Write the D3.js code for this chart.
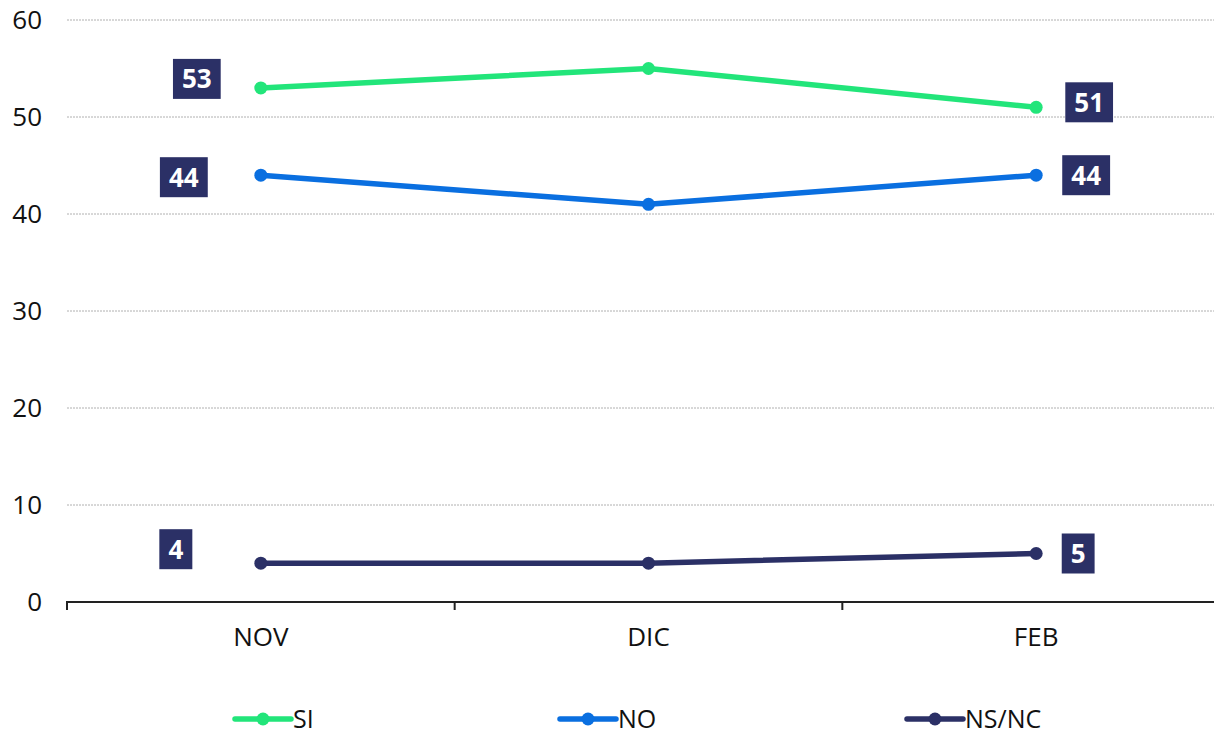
<!DOCTYPE html>
<html>
<head>
<meta charset="utf-8">
<script src="https://cdn.jsdelivr.net/npm/d3@7"></script>
<style>
  html, body { margin: 0; padding: 0; background: #fff; }
  svg { display: block; font-family: "Open Sans", "Noto Sans", sans-serif; }
</style>
</head>
<body>
<svg id="chart" width="1214" height="735"></svg>
<script>
const categories = ["NOV", "DIC", "FEB"];
const seriesNames = ["SI", "NO", "NS/NC"];
const siValues = [53, 55, 51];
const noValues = [44, 41, 44];
const nsncValues = [4, 4, 5];
const yTicks = [0, 10, 20, 30, 40, 50, 60];
const colors = ["#22E57A", "#0A6FE0", "#2B3066"];

// which points carry a value label, with a nudge (drawing config, not data)
const labelPlacements = [
  { s: 0, i: 0, dx: -64, dy: -9 },
  { s: 0, i: 2, dx: 53, dy: -5 },
  { s: 1, i: 0, dx: -77, dy: 2 },
  { s: 1, i: 2, dx: 50, dy: 0 },
  { s: 2, i: 0, dx: -85, dy: -14 },
  { s: 2, i: 2, dx: 42, dy: 0 }
];

const series = [siValues, noValues, nsncValues].map((v, k) => ({
  name: seriesNames[k], color: colors[k],
  values: v.map((d, i) => ({ cat: categories[i], value: d }))
}));

const svg = d3.select("#chart");
const x0 = 67, x1 = 1230, yTop = 20, yBottom = 602;

const x = d3.scaleBand().domain(categories).range([x0, x1]);
const y = d3.scaleLinear().domain([0, 60]).range([yBottom, yTop]);
const cx = c => x(c) + x.bandwidth() / 2;

// gridlines
svg.append("g").selectAll("line")
  .data(yTicks.filter(t => t > 0))
  .join("line")
  .attr("x1", x0).attr("x2", 1214)
  .attr("y1", d => y(d)).attr("y2", d => y(d))
  .attr("stroke", "#b0b0b0").attr("stroke-width", 1)
  .attr("stroke-dasharray", "2,1");

// y axis labels
const yAxis = d3.axisLeft(y).tickValues(yTicks).tickSize(0).tickPadding(0);
const gy = svg.append("g").attr("transform", `translate(42,0)`).call(yAxis);
gy.select(".domain").remove();
gy.selectAll("text").attr("font-size", 26).attr("fill", "#111")
  .attr("font-family", "Open Sans, sans-serif");

// x axis
const xAxis = d3.axisBottom(x).tickSize(0).tickPadding(0);
const gx = svg.append("g").attr("transform", `translate(0,${yBottom})`).call(xAxis);
gx.select(".domain").attr("stroke", "#222").attr("stroke-width", 2)
  .attr("d", `M${x0},8V0H${x1}V8`);
gx.selectAll("text").attr("font-size", 26).attr("fill", "#111")
  .attr("font-family", "Open Sans, sans-serif")
  .attr("dy", null).attr("y", 44);
// category boundary ticks
gx.append("g").selectAll("line")
  .data(categories.slice(1))
  .join("line")
  .attr("x1", d => x(d)).attr("x2", d => x(d))
  .attr("y1", 0).attr("y2", 8)
  .attr("stroke", "#222").attr("stroke-width", 2);

// lines
const line = d3.line().x(d => cx(d.cat)).y(d => y(d.value));
const gs = svg.append("g").selectAll("g").data(series).join("g");
gs.append("path")
  .attr("d", d => line(d.values))
  .attr("fill", "none").attr("stroke", d => d.color)
  .attr("stroke-width", 5.5).attr("stroke-linejoin", "round").attr("stroke-linecap", "round");
gs.selectAll("circle").data(d => d.values.map(v => ({ ...v, color: d.color })))
  .join("circle")
  .attr("cx", d => cx(d.cat)).attr("cy", d => y(d.value))
  .attr("r", 6.5).attr("fill", d => d.color);

// value labels
const lg = svg.append("g");
labelPlacements.forEach(p => {
  const pt = series[p.s].values[p.i];
  const px = cx(pt.cat) + p.dx, py = y(pt.value) + p.dy;
  const g = lg.append("g").attr("transform", `translate(${px},${py})`);
  const t = g.append("text").text(pt.value)
    .attr("text-anchor", "middle").attr("dy", "0.36em")
    .attr("font-size", 26).attr("font-weight", "bold").attr("fill", "#fff");
  const bb = t.node().getBBox();
  const w = bb.width + 18, h = 40;
  g.insert("rect", "text")
    .attr("x", -w / 2).attr("y", -h / 2).attr("width", w).attr("height", h)
    .attr("fill", "#2B3066");
});

// legend
const legendX = [235, 560, 907];
const legY = 719;
const lgd = svg.append("g").selectAll("g").data(series).join("g")
  .attr("transform", (d, i) => `translate(${legendX[i]},${legY})`);
lgd.append("line").attr("x1", 0).attr("x2", 56).attr("y1", 0).attr("y2", 0)
  .attr("stroke", d => d.color).attr("stroke-width", 5.5).attr("stroke-linecap", "round");
lgd.append("circle").attr("cx", 28).attr("cy", 0).attr("r", 6.5).attr("fill", d => d.color);
lgd.append("text").attr("x", 58).attr("y", 0).attr("dy", "0.35em").text(d => d.name)
  .attr("font-size", 25).attr("fill", "#111");
</script>
</body>
</html>
